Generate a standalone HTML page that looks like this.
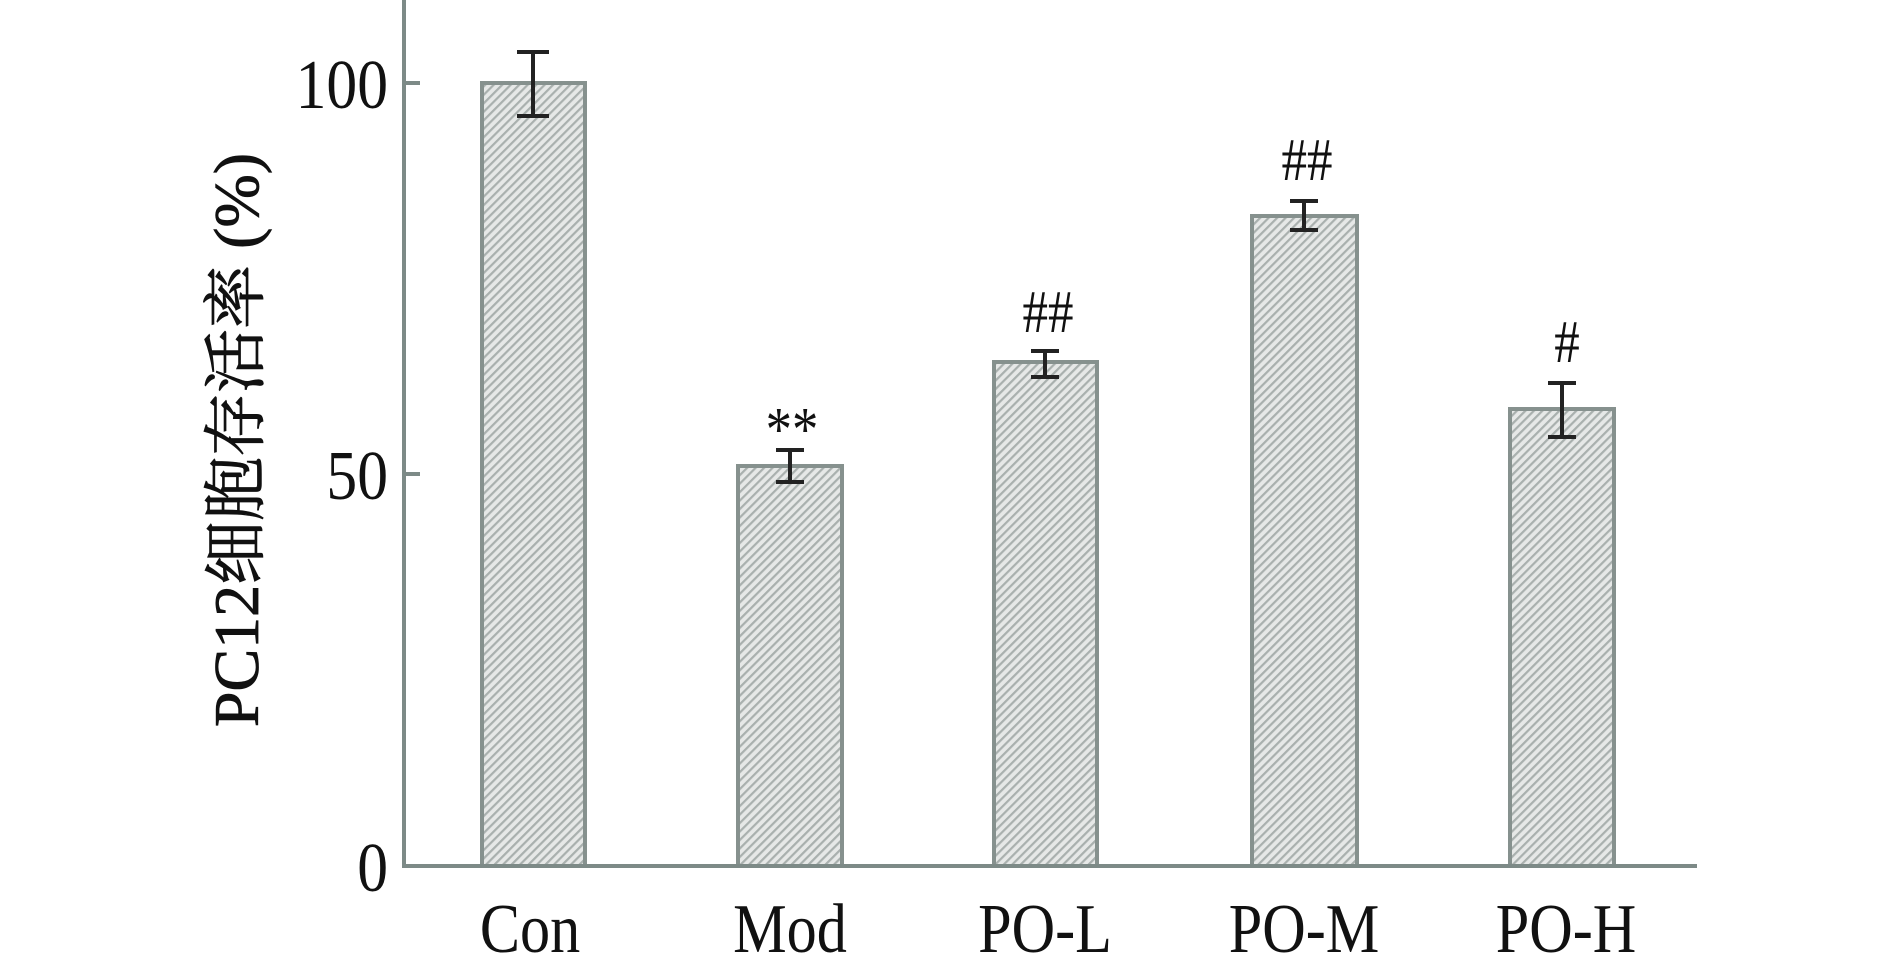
<!DOCTYPE html>
<html><head><meta charset="utf-8"><style>body{margin:0;background:#fff}</style></head><body>
<svg width="1890" height="963" xmlns="http://www.w3.org/2000/svg" font-family="'Liberation Serif','Noto Serif CJK SC',serif">
<defs><pattern id="h" width="6" height="6" patternUnits="userSpaceOnUse" patternTransform="rotate(45)"><rect width="6" height="6" fill="#e6e8e7"/><rect width="2.2" height="6" fill="#a9b0ae"/></pattern></defs>
<g stroke="#86918e" stroke-width="4" fill="url(#h)">
<rect x="482" y="83" width="103" height="783"/>
<rect x="738" y="466" width="104" height="400"/>
<rect x="994" y="362" width="103" height="504"/>
<rect x="1252" y="216" width="105" height="650"/>
<rect x="1510" y="409" width="104" height="457"/>
</g>
<g stroke="#7d8a87" stroke-width="4"><line x1="404" y1="0" x2="404" y2="868"/><line x1="402" y1="866" x2="1697" y2="866"/>
<line x1="404" y1="83" x2="420" y2="83"/><line x1="404" y1="474" x2="420" y2="474"/></g>
<g stroke="#222" stroke-width="4">
<path d="M533 52V116M517 52H549M517 116H549"/>
<path d="M790 450V482M776 450H804M776 482H804"/>
<path d="M1045 351V377M1031 351H1059M1031 377H1059"/>
<path d="M1304 201V230M1290 201H1318M1290 230H1318"/>
<path d="M1562 383V437M1548 383H1576M1548 437H1576"/>
</g>
<g font-size="70" fill="#111" text-anchor="end">
<text transform="translate(388,108) scale(0.88,1)">100</text>
<text transform="translate(388,499) scale(0.88,1)">50</text>
<text transform="translate(388,891) scale(0.88,1)">0</text></g>
<g font-size="70" fill="#111" text-anchor="middle">
<text transform="translate(530,952) scale(0.86,1)">Con</text>
<text transform="translate(790,952) scale(0.86,1)">Mod</text>
<text transform="translate(1045,952) scale(0.86,1)">PO-L</text>
<text transform="translate(1304,952) scale(0.86,1)">PO-M</text>
<text transform="translate(1566,952) scale(0.86,1)">PO-H</text>
<text transform="translate(792,450) scale(0.85,1)" font-size="62">**</text>
<text transform="translate(1048,332) scale(0.85,1)" font-size="60">##</text>
<text transform="translate(1307,180) scale(0.85,1)" font-size="60">##</text>
<text transform="translate(1567,362) scale(0.85,1)" font-size="60">#</text>
</g>
<text transform="translate(258,440) rotate(-90)" font-size="64" text-anchor="middle" fill="#111" stroke="#111" stroke-width="0.8">PC12细胞存活率 (%)</text>
</svg>
</body></html>
